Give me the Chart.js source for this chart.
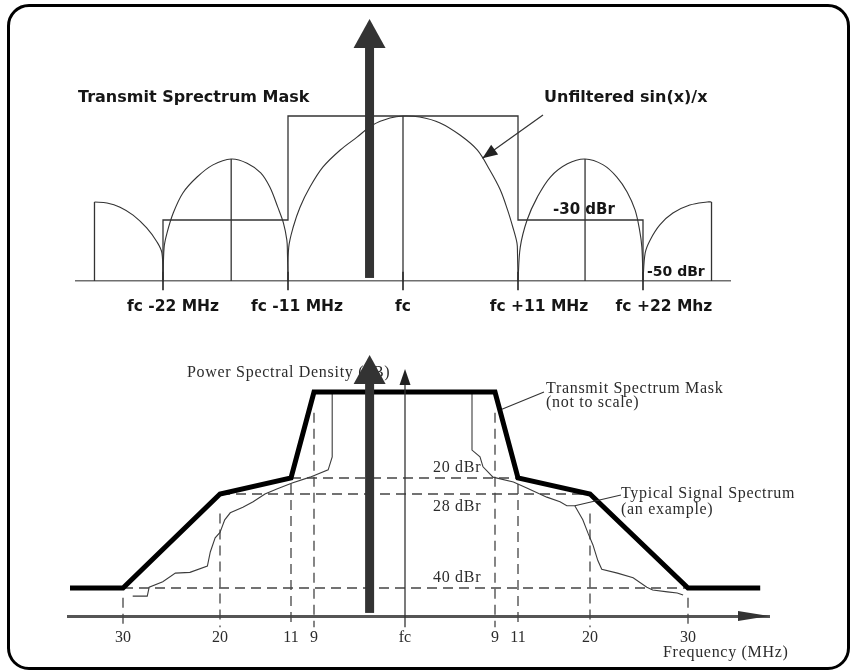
<!DOCTYPE html>
<html>
<head>
<meta charset="utf-8">
<title>802.11b Transmit Spectrum Mask</title>
<script src="https://cdn.jsdelivr.net/npm/chart.js@4.4.1/dist/chart.umd.min.js"></script>
<style>
    html, body { margin: 0; padding: 0; background: #fff; }
    body { width: 852px; height: 671px; position: relative; overflow: hidden; }
    .frame {
        position: absolute; left: 7px; top: 4px; width: 843px; height: 666px;
        box-sizing: border-box; border: 3px solid #000; border-radius: 22px;
    }
    canvas { position: absolute; left: 0; }
    #topChart { top: 0; }
    #bottomChart { top: 335px; }
</style>
</head>
<body>
<div class="frame"></div>
<canvas id="topChart" width="852" height="335"></canvas>
<canvas id="bottomChart" width="852" height="336"></canvas>
<script>
// ---------- top panel: unfiltered sin(x)/x vs mask (MHz from fc, dBr) ----------
const lobeOuterLeft = [[-28.3, -24.8], [-27.15, -25.1], [-25.95, -26.3], [-24.75, -28.6], [-23.5, -32.6], [-22.55, -37.2], [-22.1, -40.8], [-22, -50]];
const lobeSideLeft = [[-22, -50], [-21.9, -38.9], [-21.65, -34.3], [-21.1, -28.0], [-20.25, -22.2], [-19.0, -17.6], [-17.6, -14.1], [-16.0, -12.4], [-14.6, -13.6], [-13.4, -16.4], [-12.6, -20.5], [-11.9, -26.3], [-11.4, -31.0], [-11.1, -36.6], [-11.05, -40.8], [-11, -50]];
const lobeMain = [[-11, -50], [-10.93, -38.9], [-10.5, -32.3], [-9.85, -26.3], [-8.9, -20.5], [-7.65, -14.7], [-6.0, -9.8], [-4.4, -6.1], [-2.9, -2.6], [-1.25, -0.6], [0, 0], [1.6, -0.3], [3.55, -2.0], [5.45, -5.5], [7.1, -9.8], [8.3, -15.6], [9.3, -21.3], [10.0, -27.1], [10.5, -32.3], [10.9, -37.5], [10.95, -40.8], [11, -50]];
const lobeSideRight = [[11, -50], [11.2, -38.9], [11.8, -30.0], [12.7, -23.4], [13.85, -17.6], [15.35, -13.8], [16.9, -12.4], [18.5, -14.1], [19.7, -17.6], [20.6, -21.9], [21.3, -27.1], [21.7, -33.3], [21.9, -38.9], [22, -50]];
const lobeOuterRight = [[22, -50], [22.2, -40.8], [22.65, -36.6], [23.55, -31.6], [24.75, -28.0], [26.3, -25.7], [27.9, -24.8], [28.3, -24.8]];
const lobeEdges = [[-28.3, -24.8], [28.3, -24.8]];          // lobes cut off here
const lobeCentres = [[-16.0, -12.4], [0, 0], [16.9, -12.4]];
const topMask = [[-22, -50], [-22, -30], [-11, -30], [-11, 0], [11, 0], [11, -30], [22, -30], [22, -50]];
const nullFreqs = [-22, -11, 0, 11, 22];
const topTickLabels = ['fc -22 MHz', 'fc -11 MHz', 'fc', 'fc +11 MHz', 'fc +22 Mhz'];
const topCarrierMHz = -3.2;

// ---------- bottom panel: mask and typical spectrum (not to scale) ----------
const maskFreq = [-35.3, -30, -20, -11, -9, 9, 11, 20, 30, 37.4];
const maskDbr = [-40, -40, -28, -20, 0, 0, -20, -28, -40, -40];
const spectrumLeft = [[-29.0, -42.9], [-27.5, -42.9], [-27.3, -39.9], [-25.9, -39.2], [-24.6, -38.1], [-23.1, -38.0], [-21.3, -37.2], [-21.0, -35.4], [-20.5, -33.6], [-20.0, -32.9], [-19.4, -31.3], [-18.7, -30.4], [-17.1, -29.7], [-15.8, -29.0], [-14.3, -28.0], [-12.8, -25.5], [-10.9, -22.5], [-9.35, -19.8], [-7.6, -18.1], [-7.2, -15.1], [-7.2, 0]];
const spectrumRight = [[6.7, 0], [6.7, -13.5], [7.5, -15.1], [7.8, -17.4], [8.8, -19.8], [10.6, -22.0], [12.1, -25.0], [14.6, -28.4], [16.25, -29.0], [17.1, -29.5], [18.1, -29.5], [19.1, -31.3], [19.75, -33.0], [20.3, -34.5], [20.8, -36.5], [21.2, -37.6], [22.8, -38.1], [24.4, -38.7], [25.8, -39.9], [26.4, -40.7], [27.9, -41.4], [28.9, -41.8], [29.5, -42.5]];
const refLevelDbr = [-20, -28, -40];
const refLevelSpan = [11, 20, 30];
const refLevelLabels = ['20 dBr', '28 dBr', '40 dBr'];
const bottomTickFreq = [-30, -20, -11, -9, 0, 9, 11, 20, 30];
const bottomTickLabels = ['30', '20', '11', '9', 'fc', '9', '11', '20', '30'];
const guideTopDbr = [-43.5, -30.5, -23, -4.8, null, -4.8, -23, -30.5, -43.5];
const guideBottomDbr = -54;
const bottomCarrierMHz = -3.5;

// Axis that is "not to scale": values are placed between knots
class PiecewiseScale extends Chart.LinearScale {
    _decimalFor(value) {
        const vals = this.options.knots.values;
        const at = this.options.knots.at;
        const n = vals.length;
        let i = 1;
        while (i < n - 1 && value > vals[i]) i++;
        const t = (value - vals[i - 1]) / (vals[i] - vals[i - 1]);
        const p = at[i - 1] + t * (at[i] - at[i - 1]);
        return (p - at[0]) / (at[n - 1] - at[0]);
    }
    getPixelForValue(value) {
        if (value === null || value === undefined || isNaN(value)) return NaN;
        return this.getPixelForDecimal(this._decimalFor(value));
    }
    getValueForPixel(pixel) {
        const vals = this.options.knots.values;
        const at = this.options.knots.at;
        const n = vals.length;
        const p = at[0] + this.getDecimalForPixel(pixel) * (at[n - 1] - at[0]);
        const up = at[n - 1] > at[0];
        let i = 1;
        while (i < n - 1 && (up ? p > at[i] : p < at[i])) i++;
        const t = (p - at[i - 1]) / (at[i] - at[i - 1]);
        return vals[i - 1] + t * (vals[i] - vals[i - 1]);
    }
}
PiecewiseScale.id = 'piecewise';
PiecewiseScale.defaults = {};
Chart.register(PiecewiseScale);

const pts = (pairs) => pairs.map(([x, y]) => ({ x, y }));

// two-point segments separated by gaps
function segments(list) {
    const out = [];
    list.forEach(([a, b]) => {
        out.push({ x: a[0], y: a[1] }, { x: b[0], y: b[1] }, { x: b[0], y: null });
    });
    return out;
}

function arrowHead(ctx, x0, y0, x1, y1, len, half) {
    const a = Math.atan2(y1 - y0, x1 - x0);
    const c = Math.cos(a), s = Math.sin(a);
    ctx.beginPath();
    ctx.moveTo(x1, y1);
    ctx.lineTo(x1 - len * c + half * s, y1 - len * s - half * c);
    ctx.lineTo(x1 - len * c - half * s, y1 - len * s + half * c);
    ctx.closePath();
    ctx.fill();
}

function bigArrow(ctx, cx, yBottom, yTip) {
    const shaft = 9, headLen = 29, headHalf = 16;
    ctx.fillStyle = '#333';
    ctx.fillRect(cx - shaft / 2, yTip + headLen - 1, shaft, yBottom - yTip - headLen + 1);
    ctx.beginPath();
    ctx.moveTo(cx, yTip);
    ctx.lineTo(cx + headHalf, yTip + headLen);
    ctx.lineTo(cx - headHalf, yTip + headLen);
    ctx.closePath();
    ctx.fill();
}

function serifText(ctx, text, x, y) {
    ctx.save();
    ctx.font = '16px "Liberation Serif"';
    ctx.letterSpacing = '0.7px';
    ctx.fillStyle = '#2b2b2b';
    ctx.textAlign = 'left';
    ctx.textBaseline = 'middle';
    ctx.fillText(text, x, y);
    ctx.restore();
}

const thin = { borderColor: '#333', borderWidth: 1.3, pointRadius: 0, fill: false, tension: 0, clip: false };
const lobe = { ...thin, borderWidth: 1.1, tension: 0.35 };

window.buildTopChart = function () {
    try {
        const canvas = document.getElementById('topChart');
        const topLabelNudge = [10, 9, 0, 21, 21];

        const topAnnotations = {
            id: 'topAnnotations',
            afterDatasetsDraw(chart) {
                const { ctx, scales: { x, y } } = chart;
                ctx.save();
                ctx.fillStyle = '#161616';
                ctx.textBaseline = 'middle';
                ctx.textAlign = 'left';
                ctx.font = 'bold 16px "DejaVu Sans"';
                ctx.fillText('Transmit Sprectrum Mask', 78, 98);
                ctx.fillText('Unfiltered sin(x)/x', 544, 98);

                ctx.font = 'bold 15.5px "DejaVu Sans"';
                ctx.textAlign = 'center';
                nullFreqs.forEach((f, i) => {
                    ctx.fillText(topTickLabels[i], x.getPixelForValue(f) + topLabelNudge[i], 307);
                });
                ctx.textAlign = 'left';
                ctx.font = 'bold 15px "DejaVu Sans"';
                ctx.fillText('-30 dBr', 553, 210);
                ctx.font = 'bold 14px "DejaVu Sans"';
                ctx.fillText('-50 dBr', 647, 272);

                // pointer to the main lobe
                const tx = x.getPixelForValue(7.6), ty = y.getPixelForValue(-12.2);
                ctx.strokeStyle = '#333';
                ctx.fillStyle = '#222';
                ctx.lineWidth = 1.2;
                ctx.beginPath();
                ctx.moveTo(543, 115);
                ctx.lineTo(tx, ty);
                ctx.stroke();
                arrowHead(ctx, 543, 115, tx, ty, 15, 6);

                bigArrow(ctx, x.getPixelForValue(topCarrierMHz), y.getPixelForValue(-49), y.getPixelForValue(28));
                ctx.restore();
            }
        };

        window.topChart = new Chart(canvas.getContext('2d'), {
            type: 'line',
            data: {
                datasets: [
                    { ...thin, data: pts(topMask) },
                    { ...lobe, data: pts(lobeOuterLeft) },
                    { ...lobe, data: pts(lobeSideLeft) },
                    { ...lobe, data: pts(lobeMain) },
                    { ...lobe, data: pts(lobeSideRight) },
                    { ...lobe, data: pts(lobeOuterRight) },
                    { ...thin, data: segments(lobeEdges.map(p => [[p[0], -50], p])) },
                    { ...thin, data: segments(lobeCentres.map(p => [[p[0], -50], p])) },
                    { ...thin, borderWidth: 1.6, borderColor: '#222', data: segments(nullFreqs.map(f => [[f, -53], [f, -47]])) }
                ]
            },
            options: {
                responsive: false,
                animation: false,
                events: [],
                layout: { padding: { left: 76, right: 122, top: 19, bottom: 54 } },
                plugins: { legend: { display: false }, tooltip: { enabled: false } },
                scales: {
                    x: {
                        type: 'piecewise', min: -30, max: 30, bounds: 'data',
                        knots: { values: [-30, -22, -11, 0, 11, 22, 30], at: [76, 163, 288, 403, 518, 643, 730] },
                        grid: { display: false, drawTicks: false },
                        ticks: { display: false },
                        border: { display: true, color: '#6f6f6f', width: 1.6 },
                        afterFit: (s) => { s.height = 0; }
                    },
                    y: {
                        type: 'piecewise', display: false, min: -50, max: 28, bounds: 'data',
                        knots: { values: [-50, -30, 0, 28], at: [281, 220, 116, 19] }
                    }
                }
            },
            plugins: [topAnnotations]
        });
        console.log('top chart ready');
    } catch (error) {
        console.error('Error building top chart:', error);
    }
};

window.buildBottomChart = function () {
    try {
        const canvas = document.getElementById('bottomChart');

        const bottomAnnotations = {
            id: 'bottomAnnotations',
            beforeDatasetsDraw(chart) {
                serifText(chart.ctx, 'Power Spectral Density (dB)', 187, 38);
            },
            afterDatasetsDraw(chart) {
                const { ctx, scales: { x, y } } = chart;
                ctx.save();
                serifText(ctx, 'Transmit Spectrum Mask', 546, 54);
                serifText(ctx, '(not to scale)', 546, 68);
                serifText(ctx, 'Typical Signal Spectrum', 621, 159);
                serifText(ctx, '(an example)', 621, 175);
                serifText(ctx, 'Frequency (MHz)', 663, 318);
                refLevelLabels.forEach((t, i) => {
                    serifText(ctx, t, 433, [133, 172, 243][i]);
                });

                ctx.font = '16px "Liberation Serif"';
                ctx.fillStyle = '#2b2b2b';
                ctx.textAlign = 'center';
                ctx.textBaseline = 'middle';
                bottomTickFreq.forEach((f, i) => {
                    ctx.fillText(bottomTickLabels[i], x.getPixelForValue(f), 303);
                });

                ctx.strokeStyle = '#333';
                ctx.fillStyle = '#222';
                ctx.lineWidth = 1.1;
                // leaders
                ctx.beginPath();
                ctx.moveTo(544, 57);
                ctx.lineTo(x.getPixelForValue(9.6), y.getPixelForValue(-4));
                ctx.moveTo(621, 160);
                ctx.lineTo(x.getPixelForValue(18.1), y.getPixelForValue(-29.5));
                ctx.stroke();

                // power axis at fc
                const fx = x.getPixelForValue(0);
                const tip = y.getPixelForValue(5);
                ctx.lineWidth = 1.3;
                ctx.beginPath();
                ctx.moveTo(fx, y.getPixelForValue(guideBottomDbr));
                ctx.lineTo(fx, tip + 10);
                ctx.stroke();
                arrowHead(ctx, fx, tip + 20, fx, tip, 16, 5.5);

                // arrow at the end of the frequency axis
                ctx.fillStyle = '#333';
                arrowHead(ctx, chart.chartArea.left, chart.chartArea.bottom, chart.chartArea.right, chart.chartArea.bottom, 31, 5);

                bigArrow(ctx, x.getPixelForValue(bottomCarrierMHz), y.getPixelForValue(-48.9), y.getPixelForValue(8));
                ctx.restore();
            }
        };

        const dashed = { ...thin, borderColor: '#444', borderWidth: 1.3, borderDash: [10, 6] };
        const guides = [];
        bottomTickFreq.forEach((f, i) => {
            if (guideTopDbr[i] !== null) guides.push([[f, guideTopDbr[i]], [f, guideBottomDbr]]);
        });

        window.bottomChart = new Chart(canvas.getContext('2d'), {
            type: 'line',
            data: {
                datasets: [
                    { ...thin, borderColor: '#000', borderWidth: 5, data: maskFreq.map((f, i) => ({ x: f, y: maskDbr[i] })) },
                    { ...thin, borderColor: '#3c3c3c', borderWidth: 1.1, data: pts(spectrumLeft.concat(spectrumRight)) },
                    { ...dashed, data: segments(refLevelDbr.map((d, i) => [[-refLevelSpan[i], d], [refLevelSpan[i], d]])) },
                    { ...dashed, data: segments(guides) }
                ]
            },
            options: {
                responsive: false,
                animation: false,
                events: [],
                layout: { padding: { left: 68, right: 83, top: 20, bottom: 55 } },
                plugins: { legend: { display: false }, tooltip: { enabled: false } },
                scales: {
                    x: {
                        type: 'piecewise', min: -35.5, max: 38.3, bounds: 'data',
                        knots: {
                            values: [-35.5, -30, -20, -11, -9, 0, 9, 11, 20, 30, 38.3],
                            at: [68, 123, 220, 291, 314, 405, 495, 518, 590, 688, 769]
                        },
                        grid: { display: false, drawTicks: false },
                        ticks: { display: false },
                        border: { display: true, color: '#555', width: 3 },
                        afterFit: (s) => { s.height = 0; }
                    },
                    y: {
                        type: 'piecewise', display: false, min: -50, max: 8, bounds: 'data',
                        knots: { values: [-50, -40, -28, -20, 0, 8], at: [616, 588, 494, 478, 392, 355] }
                    }
                }
            },
            plugins: [bottomAnnotations]
        });
        console.log('bottom chart ready');
    } catch (error) {
        console.error('Error building bottom chart:', error);
    }
};

window.buildTopChart();
window.buildBottomChart();
</script>
</body>
</html>
